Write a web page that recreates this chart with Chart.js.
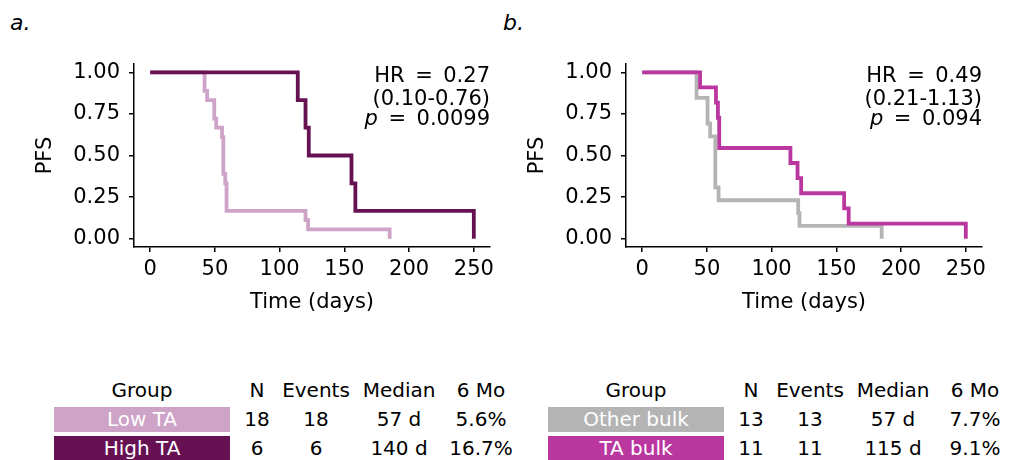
<!DOCTYPE html>
<html>
<head>
<meta charset="utf-8" />
<title>PFS by TA group</title>
<script src="https://cdn.jsdelivr.net/npm/chart.js@4.4.0/dist/chart.umd.min.js"></script>
<style>
  body { margin: 0; background: #fff; font-family: "DejaVu Sans", sans-serif; color: #000; }
  #wrap { position: relative; width: 1011px; height: 460px; overflow: hidden; }
  #wrap canvas { position: absolute; top: 0; }
  .panel { position: absolute; top: 10px; font-size: 22px; font-style: italic; }
  .cell { position: absolute; font-size: 20px; line-height: 25px; white-space: nowrap; transform: translateX(-50%); }
  .box { position: absolute; height: 25px; line-height: 25px; font-size: 20px; color: #fff; text-align: center; white-space: nowrap; }
</style>
</head>
<body>
<div id="wrap">
  <div class="panel" style="left:10px">a.</div>
  <div class="panel" style="left:503px">b.</div>
  <canvas id="kmA" width="505" height="330" style="left:0"></canvas>
  <canvas id="kmB" width="519" height="330" style="left:492px"></canvas>
</div>
<script>
// panel a: low vs high TA
const lowTaDays = [0, 42, 44, 49.5, 51, 55.5, 56.5, 58, 59, 120, 122, 185];
const lowTaPfs = [1, 0.889, 0.833, 0.722, 0.667, 0.611, 0.389, 0.333, 0.167, 0.111, 0.056, 0];
const highTaDays = [0, 114, 120, 122.5, 155.5, 158.5, 250];
const highTaPfs = [1, 0.833, 0.667, 0.5, 0.333, 0.167, 0];

// panel b: other bulk vs TA bulk
const otherBulkDays = [0, 42, 50.5, 52.5, 56.5, 59, 120.5, 121.5, 185];
const otherBulkPfs = [1, 0.846, 0.692, 0.615, 0.308, 0.231, 0.154, 0.077, 0];
const taBulkDays = [0, 44.7, 57, 58.5, 59.5, 114.5, 120, 122.8, 156, 159.5, 250];
const taBulkPfs = [1, 0.909, 0.818, 0.727, 0.545, 0.455, 0.364, 0.273, 0.182, 0.091, 0];

const xTicks = [0, 50, 100, 150, 200, 250];
const yTicks = [0, 0.25, 0.5, 0.75, 1];

const statsA = ['0.27', '(0.10-0.76)', '0.0099'];
const statsB = ['0.49', '(0.21-1.13)', '0.094'];

// summary tables
const tableHeader = ['Group', 'N', 'Events', 'Median', '6 Mo'];
const groupsA = ['Low TA', 'High TA'];
const nA = [18, 6];
const eventsA = [18, 6];
const medianA = ['57 d', '140 d'];
const sixMoA = ['5.6%', '16.7%'];
const groupsB = ['Other bulk', 'TA bulk'];
const nB = [13, 11];
const eventsB = [13, 11];
const medianB = ['57 d', '115 d'];
const sixMoB = ['7.7%', '9.1%'];

const colLowTa = '#cea3c8';
const colHighTa = '#661152';
const colOther = '#b4b4b4';
const colTaBulk = '#ba37a0';

const FONT = '"DejaVu Sans", sans-serif';

function statsPlugin(vals) {
  return {
    id: 'stats',
    afterDraw(chart) {
      const { ctx, chartArea } = chart;
      const r = chartArea.right, t = chartArea.top;
      ctx.save();
      ctx.fillStyle = '#000';
      ctx.textAlign = 'right';
      ctx.textBaseline = 'alphabetic';
      ctx.font = '21px ' + FONT;
      ctx.fillText('HR\u2002=\u2002' + vals[0], r, t + 18);
      ctx.fillText(vals[1], r, t + 41);
      const rest = '\u2002=\u2002' + vals[2];
      ctx.fillText(rest, r, t + 61);
      const w = ctx.measureText(rest).width;
      ctx.font = 'italic 21px ' + FONT;
      ctx.fillText('p', r - w, t + 61);
      ctx.restore();
    }
  };
}

function curve(days, pfs, color, order) {
  return {
    data: days.map((d, i) => ({ x: d, y: pfs[i] })),
    borderColor: color,
    borderWidth: 3.8,
    stepped: 'before',
    pointRadius: 0,
    fill: false,
    order: order,
    clip: false
  };
}

function kmChart(id, datasets, stats, padRight) {
  const tickFont = { family: FONT, size: 21 };
  return new Chart(document.getElementById(id), {
    type: 'line',
    data: { datasets: datasets },
    options: {
      responsive: false,
      animation: false,
      events: [],
      layout: { padding: { left: 0, top: 64, right: padRight, bottom: 0 } },
      plugins: { legend: { display: false }, tooltip: { enabled: false } },
      scales: {
        x: {
          type: 'linear',
          min: -12.5,
          max: 262.5,
          afterBuildTicks: s => { s.ticks = xTicks.map(v => ({ value: v })); },
          afterFit: s => { s.height = 83; },
          grid: { drawOnChartArea: false, tickLength: 5, color: '#000', lineWidth: 1.5 },
          border: { color: '#000', width: 1.5 },
          ticks: { color: '#000', font: tickFont, padding: 5, maxRotation: 0 },
          title: { display: true, text: 'Time (days)', color: '#000', font: tickFont, padding: { top: 0, bottom: 15 } }
        },
        y: {
          type: 'linear',
          min: -0.05,
          max: 1.05,
          afterBuildTicks: s => { s.ticks = yTicks.map(v => ({ value: v })); },
          afterFit: s => { s.width = 134; },
          grid: { drawOnChartArea: false, tickLength: 5, color: '#000', lineWidth: 1.5 },
          border: { color: '#000', width: 1.5 },
          ticks: { color: '#000', font: tickFont, padding: 9, callback: v => v.toFixed(2) },
          title: { display: true, text: 'PFS', color: '#000', font: tickFont, padding: { top: 33, bottom: 0 } }
        }
      }
    },
    plugins: [statsPlugin(stats)]
  });
}

kmChart('kmA', [
  curve(highTaDays, highTaPfs, colHighTa, 0),
  curve(lowTaDays, lowTaPfs, colLowTa, 1)
], statsA, 15);

kmChart('kmB', [
  curve(taBulkDays, taBulkPfs, colTaBulk, 0),
  curve(otherBulkDays, otherBulkPfs, colOther, 1)
], statsB, 29);

// tables under each panel
function addCell(text, x, y) {
  const d = document.createElement('div');
  d.className = 'cell';
  d.style.left = x + 'px';
  d.style.top = y + 'px';
  d.textContent = text;
  document.getElementById('wrap').appendChild(d);
}

function buildTable(x0, groups, colors, n, events, median, sixMo) {
  const cols = [88, 203, 262, 345, 427].map(c => c + x0);
  tableHeader.forEach((h, i) => addCell(h, cols[i], 378));
  groups.forEach((g, r) => {
    const top = 407 + r * 29;
    const b = document.createElement('div');
    b.className = 'box';
    b.style.left = (x0) + 'px';
    b.style.width = '176px';
    b.style.top = top + 'px';
    b.style.background = colors[r];
    b.textContent = g;
    document.getElementById('wrap').appendChild(b);
    addCell(String(n[r]), cols[1], top);
    addCell(String(events[r]), cols[2], top);
    addCell(median[r], cols[3], top);
    addCell(sixMo[r], cols[4], top);
  });
}

buildTable(54, groupsA, [colLowTa, colHighTa], nA, eventsA, medianA, sixMoA);
buildTable(548, groupsB, [colOther, colTaBulk], nB, eventsB, medianB, sixMoB);
</script>
</body>
</html>
